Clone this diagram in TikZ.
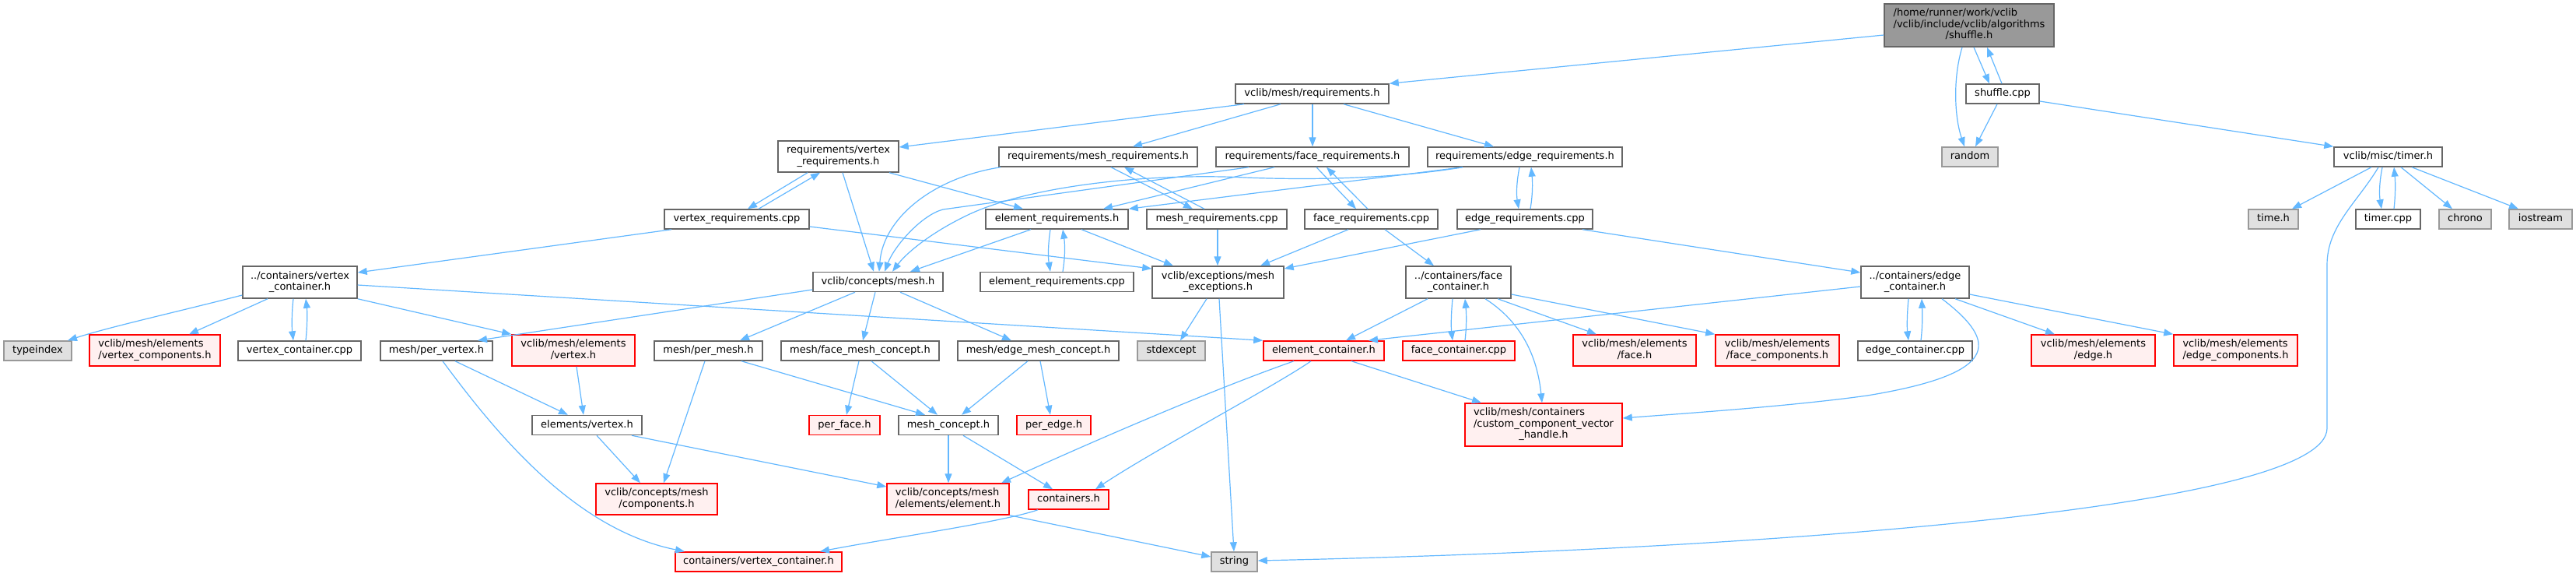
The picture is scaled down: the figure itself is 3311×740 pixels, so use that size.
\documentclass[tikz,border=0pt]{standalone}
\usepackage{fontspec}
\setmainfont{DejaVu Sans}
\usetikzlibrary{arrows.meta}
\definecolor{ecol}{HTML}{63B8FF}
\definecolor{nbord}{HTML}{666666}
\definecolor{sysbord}{HTML}{999999}
\definecolor{sysfill}{HTML}{E0E0E0}
\definecolor{redfill}{HTML}{FFF0F0}
\definecolor{mainfill}{HTML}{999999}
\newcommand\twol[2]{\begin{tabular}{@{}l@{}}#1\\\multicolumn{1}{@{}c@{}}{#2}\end{tabular}}
\newcommand\threel[3]{\begin{tabular}{@{}l@{}}#1\\#2\\\multicolumn{1}{@{}c@{}}{#3}\end{tabular}}
\begin{document}
\begin{tikzpicture}[x=1pt,y=-1pt,
  nd/.style={draw=nbord,fill=white,line width=1.5pt,inner sep=0pt,font=\fontsize{13}{14.5}\selectfont},
  sl/.style={text height=9.6pt,text depth=2.8pt},
  redn/.style={nd,draw=red,fill=redfill},
  sysn/.style={nd,draw=sysbord,fill=sysfill},
  mainn/.style={nd,fill=mainfill,draw=nbord},
  edg/.style={draw=ecol,line width=1.2pt,-{Triangle[length=12pt,width=9pt]}}]
\fill[white] (0,0) rectangle (3311,740);
\useasboundingbox (0,0) rectangle (3311,740);

% nodes
\node[mainn,minimum width=218pt,minimum height=55pt] (main) at (2531,32.5) {\threel{/home/runner/work/vclib}{/vclib/include/vclib/algorithms}{/shuffle.h}};
\node[nd,sl,minimum width=197pt,minimum height=25pt] (req) at (1686.5,120.5) {vclib/mesh/requirements.h};
\node[nd,sl,minimum width=94pt,minimum height=25pt] (shufcpp) at (2574,120.5) {shuffle.cpp};
\node[sysn,sl,minimum width=72pt,minimum height=25pt] (random) at (2532,201.5) {random};
\node[nd,sl,minimum width=139pt,minimum height=25pt] (timer) at (3069.5,201.5) {vclib/misc/timer.h};
\node[nd,minimum width=155pt,minimum height=40pt] (vreq) at (1077.5,201) {\twol{requirements/vertex}{\_requirements.h}};
\node[nd,sl,minimum width=255pt,minimum height=25pt] (mreq) at (1411.5,201.5) {requirements/mesh\_requirements.h};
\node[nd,sl,minimum width=248pt,minimum height=25pt] (freq) at (1687,201.5) {requirements/face\_requirements.h};
\node[nd,sl,minimum width=250pt,minimum height=25pt] (ereq) at (1960,201.5) {requirements/edge\_requirements.h};
\node[nd,sl,minimum width=186pt,minimum height=25pt] (vreqcpp) at (947,281.5) {vertex\_requirements.cpp};
\node[nd,sl,minimum width=183pt,minimum height=25pt] (elreq) at (1358.5,281.5) {element\_requirements.h};
\node[nd,sl,minimum width=180pt,minimum height=25pt] (mreqcpp) at (1564,281.5) {mesh\_requirements.cpp};
\node[nd,sl,minimum width=171pt,minimum height=25pt] (freqcpp) at (1762.5,281.5) {face\_requirements.cpp};
\node[nd,sl,minimum width=174pt,minimum height=25pt] (ereqcpp) at (1960,281.5) {edge\_requirements.cpp};
\node[sysn,sl,minimum width=64pt,minimum height=25pt] (timeh) at (2922,281.5) {time.h};
\node[nd,sl,minimum width=83pt,minimum height=25pt] (timercpp) at (3069.5,281.5) {timer.cpp};
\node[sysn,sl,minimum width=67pt,minimum height=25pt] (chrono) at (3168.5,281.5) {chrono};
\node[sysn,sl,minimum width=81pt,minimum height=25pt] (iostream) at (3265.5,281.5) {iostream};
\node[nd,minimum width=147pt,minimum height=41pt] (vcont) at (385.5,362.5) {\twol{../containers/vertex}{\_container.h}};
\node[nd,sl,minimum width=167pt,minimum height=25pt] (mesh) at (1128.5,362) {vclib/concepts/mesh.h};
\node[nd,sl,minimum width=197pt,minimum height=25pt] (elreqcpp) at (1358.5,362) {element\_requirements.cpp};
\node[nd,minimum width=169pt,minimum height=41pt] (mexc) at (1565.5,362.5) {\twol{vclib/exceptions/mesh}{\_exceptions.h}};
\node[nd,minimum width=135pt,minimum height=41pt] (fcont) at (1874.5,362.5) {\twol{../containers/face}{\_container.h}};
\node[nd,minimum width=139pt,minimum height=41pt] (econt) at (2461.5,362.5) {\twol{../containers/edge}{\_container.h}};
\node[sysn,sl,minimum width=87pt,minimum height=25pt] (typeindex) at (48.5,450.5) {typeindex};
\node[redn,minimum width=168pt,minimum height=40pt] (vcomp) at (199,450) {\twol{vclib/mesh/elements}{/vertex\_components.h}};
\node[nd,sl,minimum width=158pt,minimum height=25pt] (vcontcpp) at (385,450.5) {vertex\_container.cpp};
\node[nd,sl,minimum width=144pt,minimum height=25pt] (pervert) at (561,450.5) {mesh/per\_vertex.h};
\node[redn,minimum width=158pt,minimum height=40pt] (vertexh) at (737,450) {\twol{vclib/mesh/elements}{/vertex.h}};
\node[nd,sl,minimum width=139pt,minimum height=25pt] (permesh) at (910.5,450.5) {mesh/per\_mesh.h};
\node[nd,sl,minimum width=203pt,minimum height=25pt] (fmc) at (1105.5,450.5) {mesh/face\_mesh\_concept.h};
\node[nd,sl,minimum width=207pt,minimum height=25pt] (emc) at (1334.5,450.5) {mesh/edge\_mesh\_concept.h};
\node[sysn,sl,minimum width=87pt,minimum height=25pt] (stdexcept) at (1505.5,450.5) {stdexcept};
\node[redn,sl,minimum width=155pt,minimum height=25pt] (elcont) at (1701.5,450.5) {element\_container.h};
\node[redn,sl,minimum width=144pt,minimum height=25pt] (fcontcpp) at (1875,450.5) {face\_container.cpp};
\node[redn,minimum width=158pt,minimum height=40pt] (faceh) at (2101,450) {\twol{vclib/mesh/elements}{/face.h}};
\node[redn,minimum width=159pt,minimum height=40pt] (fcomp) at (2284.5,450) {\twol{vclib/mesh/elements}{/face\_components.h}};
\node[nd,sl,minimum width=147pt,minimum height=25pt] (econtcpp) at (2461.5,450.5) {edge\_container.cpp};
\node[redn,minimum width=159pt,minimum height=40pt] (edgeh) at (2690.5,450) {\twol{vclib/mesh/elements}{/edge.h}};
\node[redn,minimum width=159pt,minimum height=40pt] (ecomp) at (2873.5,450) {\twol{vclib/mesh/elements}{/edge\_components.h}};
\node[nd,sl,minimum width=141pt,minimum height=25pt] (elvert) at (754.5,546) {elements/vertex.h};
\node[redn,sl,minimum width=91pt,minimum height=25pt] (perface) at (1085.5,546) {per\_face.h};
\node[nd,sl,minimum width=128pt,minimum height=25pt] (meshconcept) at (1219,546) {mesh\_concept.h};
\node[redn,sl,minimum width=95pt,minimum height=25pt] (peredge) at (1354.5,546) {per\_edge.h};
\node[redn,minimum width=202pt,minimum height=55pt] (handle) at (1984,545.5) {\threel{vclib/mesh/containers}{/custom\_component\_vector}{\_handle.h}};
\node[redn,minimum width=156pt,minimum height=40pt] (comps) at (844,641) {\twol{vclib/concepts/mesh}{/components.h}};
\node[redn,minimum width=157pt,minimum height=40pt] (element) at (1218.5,641) {\twol{vclib/concepts/mesh}{/elements/element.h}};
\node[redn,sl,minimum width=103pt,minimum height=25pt] (containers) at (1373.5,641.5) {containers.h};
\node[redn,sl,minimum width=214pt,minimum height=25pt] (cvc) at (975,721.5) {containers/vertex\_container.h};
\node[sysn,sl,minimum width=59pt,minimum height=25pt] (string) at (1586.5,721.5) {string};

% edges
\draw[edg] (main.west |- 0,45) -- (req.north east);
\draw[edg] (main.south -| 2522,0) .. controls (2510,100) and (2512,150) .. (random.north -| 2525,0);
\draw[edg] (main.south -| 2537,0) -- (shufcpp.north -| 2557,0);
\draw[edg] (shufcpp.north -| 2573,0) -- (main.south -| 2554,0);
\draw[edg] (shufcpp.south -| 2567,0) -- (random.north -| 2539,0);
\draw[edg] (shufcpp.east |- 0,130) -- (timer.north west);
\draw[edg] (timer.south -| 3048,0) -- (timeh.north -| 2946,0);
\draw[edg] (timer.south -| 3062,0) .. controls (3058,235) and (3058,250) .. (timercpp.north -| 3061,0);
\draw[edg] (timercpp.north -| 3077,0) .. controls (3079,250) and (3079,235) .. (timer.south -| 3077,0);
\draw[edg] (timer.south -| 3086,0) -- (chrono.north -| 3152,0);
\draw[edg] (timer.south -| 3100,0) -- (iostream.north -| 3237,0);
\draw[edg] (timer.south -| 3057,0) .. controls (3030,260) and (2991,290) .. (2991,340) -- (2991,550) .. controls (2991,650) and (2300,705) .. (string.east |- 0,720);

\draw[edg] (req.south -| 1599,0) -- (vreq.east |- 0,189);
\draw[edg] (req.south -| 1646,0) -- (mreq.north -| 1456,0);
\draw[edg] (req.south -| 1687,0) -- (freq.north -| 1687,0);
\draw[edg] (req.south -| 1727,0) -- (ereq.north -| 1920,0);

\draw[edg] (vreq.south -| 1038,0) -- (vreqcpp.north -| 961,0);
\draw[edg] (vreqcpp.north -| 975,0) -- (vreq.south -| 1054,0);
\draw[edg] (vreq.south -| 1083,0) -- (mesh.north -| 1123,0);
\draw[edg] (vreq.south -| 1143,0) -- (elreq.north -| 1315,0);
\draw[edg] (mreq.south -| 1286,0) .. controls (1200,228) and (1135,280) .. (mesh.north -| 1130,0);
\draw[edg] (mreq.south -| 1428,0) -- (mreqcpp.north -| 1533,0);
\draw[edg] (mreqcpp.north -| 1548,0) -- (mreq.south -| 1445,0);
\draw[edg] (freq.south -| 1638,0) -- (elreq.north -| 1418,0);
\draw[edg] (freq.south -| 1605,0) -- (1212,269) .. controls (1185,276) and (1150,315) .. (mesh.north -| 1137,0);
\draw[edg] (freq.south -| 1692,0) -- (freqcpp.north -| 1743,0);
\draw[edg] (freqcpp.north -| 1758,0) -- (freq.south -| 1705,0);
\draw[edg] (ereq.south -| 1880,0) -- (elreq.north east);
\draw[edg] (ereq.south -| 1880,0) .. controls (1800,228) and (1700,232) .. (1600,228) .. controls (1480,222) and (1320,238) .. (1240,278) .. controls (1195,300) and (1165,325) .. (mesh.north -| 1147,0);
\draw[edg] (ereq.south -| 1953,0) .. controls (1949,235) and (1949,250) .. (ereqcpp.north -| 1952,0);
\draw[edg] (ereqcpp.north -| 1967,0) .. controls (1970,250) and (1970,235) .. (ereq.south -| 1968,0);

\draw[edg] (vreqcpp.south -| 863,0) -- (vcont.east |- 0,350);
\draw[edg] (vreqcpp.east |- 0,291) -- (mexc.west |- 0,345);
\draw[edg] (elreq.south -| 1325,0) -- (mesh.north -| 1170,0);
\draw[edg] (elreq.south -| 1350,0) .. controls (1347,315) and (1347,330) .. (elreqcpp.north -| 1350,0);
\draw[edg] (elreqcpp.north -| 1366,0) .. controls (1369,330) and (1369,315) .. (elreq.south -| 1366,0);
\draw[edg] (elreq.south -| 1390,0) -- (mexc.north -| 1508,0);
\draw[edg] (mreqcpp.south -| 1565,0) -- (mexc.north -| 1565,0);
\draw[edg] (freqcpp.south -| 1733,0) -- (mexc.north -| 1620,0);
\draw[edg] (ereqcpp.south -| 1903,0) -- (mexc.east |- 0,345);
\draw[edg] (freqcpp.south -| 1780,0) -- (fcont.north -| 1843,0);
\draw[edg] (ereqcpp.south -| 2034,0) -- (econt.west |- 0,350);

\draw[edg] (mexc.south -| 1551,0) -- (stdexcept.north -| 1517,0);
\draw[edg] (mexc.south -| 1567,0) -- (string.north -| 1586,0);

\draw[edg] (vcont.west |- 0,379) .. controls (230,400) and (140,420) .. (typeindex.north -| 87,0);
\draw[edg] (vcont.south -| 344,0) -- (vcomp.north -| 243,0);
\draw[edg] (vcont.south -| 377,0) .. controls (375,400) and (375,420) .. (vcontcpp.north -| 377,0);
\draw[edg] (vcontcpp.north -| 393,0) .. controls (395,420) and (395,400) .. (vcont.south -| 393,0);
\draw[edg] (vcont.south east) -- (vertexh.north west);
\draw[edg] (vcont.east |- 0,366) -- (elcont.north west);

\draw[edg] (mesh.west |- 0,372) -- (pervert.north -| 614,0);
\draw[edg] (mesh.south -| 1099,0) -- (permesh.north -| 951,0);
\draw[edg] (mesh.south -| 1125,0) -- (fmc.north -| 1109,0);
\draw[edg] (mesh.south -| 1157,0) -- (emc.north -| 1300,0);

\draw[edg] (pervert.south -| 585,0) -- (elvert.north -| 730,0);
\draw[edg] (pervert.south -| 569,0) .. controls (640,560) and (740,680) .. (cvc.north -| 880,0);
\draw[edg] (vertexh.south -| 741,0) -- (elvert.north -| 750,0);
\draw[edg] (elvert.south -| 767,0) -- (comps.north -| 823,0);
\draw[edg] (elvert.south -| 812,0) -- (element.west |- 0,625);
\draw[edg] (permesh.south -| 906,0) -- (comps.north -| 853,0);
\draw[edg] (permesh.south -| 953,0) -- (meshconcept.north -| 1189,0);
\draw[edg] (fmc.south -| 1104,0) -- (perface.north -| 1088,0);
\draw[edg] (fmc.south -| 1120,0) -- (meshconcept.north -| 1205,0);
\draw[edg] (emc.south -| 1321,0) -- (meshconcept.north -| 1236,0);
\draw[edg] (emc.south -| 1337,0) -- (peredge.north -| 1350,0);
\draw[edg] (meshconcept.south -| 1219,0) -- (element.north -| 1219,0);
\draw[edg] (meshconcept.south -| 1238,0) -- (containers.north -| 1353,0);

\draw[edg] (elcont.south -| 1663,0) .. controls (1560,500) and (1420,560) .. (element.north -| 1287,0);
\draw[edg] (elcont.south -| 1685,0) .. controls (1640,495) and (1480,580) .. (containers.north -| 1408,0);
\draw[edg] (elcont.south -| 1737,0) -- (handle.north -| 1904,0);
\draw[edg] (containers.south -| 1334,0) .. controls (1290,670) and (1150,690) .. (cvc.north -| 1054,0);
\draw[edg] (element.south east) -- (string.west |- 0,715);

\draw[edg] (fcont.south -| 1835,0) -- (elcont.north -| 1730,0);
\draw[edg] (fcont.south -| 1867,0) .. controls (1865,405) and (1865,420) .. (fcontcpp.north -| 1867,0);
\draw[edg] (fcontcpp.north -| 1883,0) .. controls (1885,420) and (1885,405) .. (fcont.south -| 1883,0);
\draw[edg] (fcont.south -| 1909,0) .. controls (1950,410) and (1975,450) .. (handle.north -| 1982,0);
\draw[edg] (fcont.south -| 1925,0) -- (faceh.north -| 2052,0);
\draw[edg] (fcont.east |- 0,378) -- (fcomp.north west);

\draw[edg] (econt.west |- 0,368) -- (elcont.north -| 1759,0);
\draw[edg] (econt.south -| 2453,0) .. controls (2451,405) and (2451,420) .. (econtcpp.north -| 2453,0);
\draw[edg] (econtcpp.north -| 2469,0) .. controls (2471,420) and (2471,405) .. (econt.south -| 2470,0);
\draw[edg] (econt.south -| 2496,0) .. controls (2570,440) and (2570,480) .. (2400,508) .. controls (2300,522) and (2150,532) .. (handle.east |- 0,537);
\draw[edg] (econt.south -| 2513,0) -- (edgeh.north -| 2641,0);
\draw[edg] (econt.east |- 0,378) -- (ecomp.north west);
\end{tikzpicture}
\end{document}
